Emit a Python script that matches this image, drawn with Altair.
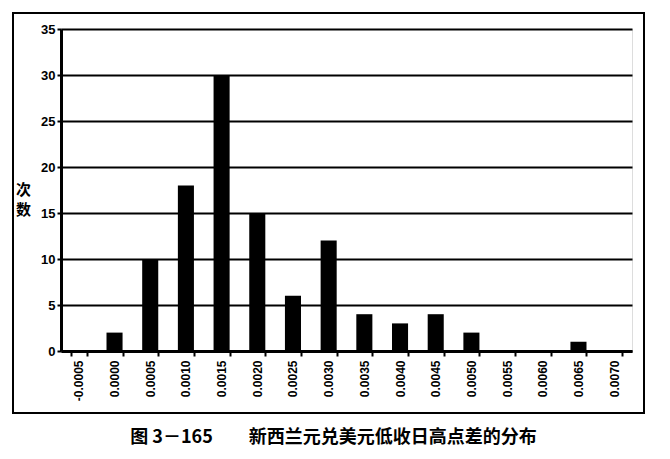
import altair as alt
import pandas as pd

categories = ["-0.0005", "0.0000", "0.0005", "0.0010", "0.0015", "0.0020", "0.0025", "0.0030",
              "0.0035", "0.0040", "0.0045", "0.0050", "0.0055", "0.0060", "0.0065", "0.0070"]
counts = [0, 2, 10, 18, 30, 15, 6, 12, 4, 3, 4, 2, 0, 0, 1, 0]
y_ticks = [0, 5, 10, 15, 20, 25, 30, 35]
caption = "图 3－165\u3000\u3000新西兰元兑美元低收日高点差的分布"
y_title = ["次", "数"]

df = pd.DataFrame({"bin": categories, "count": counts})

bars = alt.Chart(df).mark_bar(color="black", stroke=None).encode(
    x=alt.X("bin:N", sort=categories,
            scale=alt.Scale(paddingInner=0.55, paddingOuter=0.275),
            axis=alt.Axis(title=caption, labelAngle=270, labelFont="Liberation Sans",
                          labelFontWeight="bold", labelFontSize=12, labelColor="black",
                          labelPadding=4, tickBand="extent", tickSize=5, tickWidth=2,
                          tickColor="black", domainColor="black", domainWidth=3,
                          titleFont="Noto Sans CJK SC", titleFontSize=18,
                          titleFontWeight="bold", titleColor="black",
                          titleX=272, titleY=86, titleBaseline="middle",
                          titleAnchor="middle", titleAlign="center")),
    y=alt.Y("count:Q", scale=alt.Scale(domain=[0, 35], nice=False),
            axis=alt.Axis(values=y_ticks, title=y_title, titleAngle=0,
                          titleFont="Noto Sans CJK SC", titleFontSize=15,
                          titleFontWeight="bold", titleColor="black",
                          titleX=-38, titleY=153, titleBaseline="top",
                          titleAlign="center", titleLineHeight=20,
                          labelFont="Liberation Sans", labelFontWeight="bold",
                          labelFontSize=13, labelColor="black", labelPadding=2,
                          tickSize=4, tickWidth=2, tickColor="black",
                          domainColor="black", domainWidth=3,
                          grid=True, gridColor="black", gridWidth=2)),
)

frame = alt.Chart(alt.Data(values=[{}])).mark_rect(
    fill=None, stroke="black", strokeWidth=2
).encode(
    x=alt.value(-48), x2=alt.value(583), y=alt.value(-16), y2=alt.value(384)
)

chart = alt.layer(bars, frame).properties(
    width=571, height=322,
    autosize=alt.AutoSizeParams(type="none"),
    padding={"left": 53, "top": 21, "right": 30, "bottom": 100},
).configure_view(stroke="black", strokeWidth=2).configure(background="white")

chart.save("out.html", embed_options={"renderer": "svg", "actions": False})
